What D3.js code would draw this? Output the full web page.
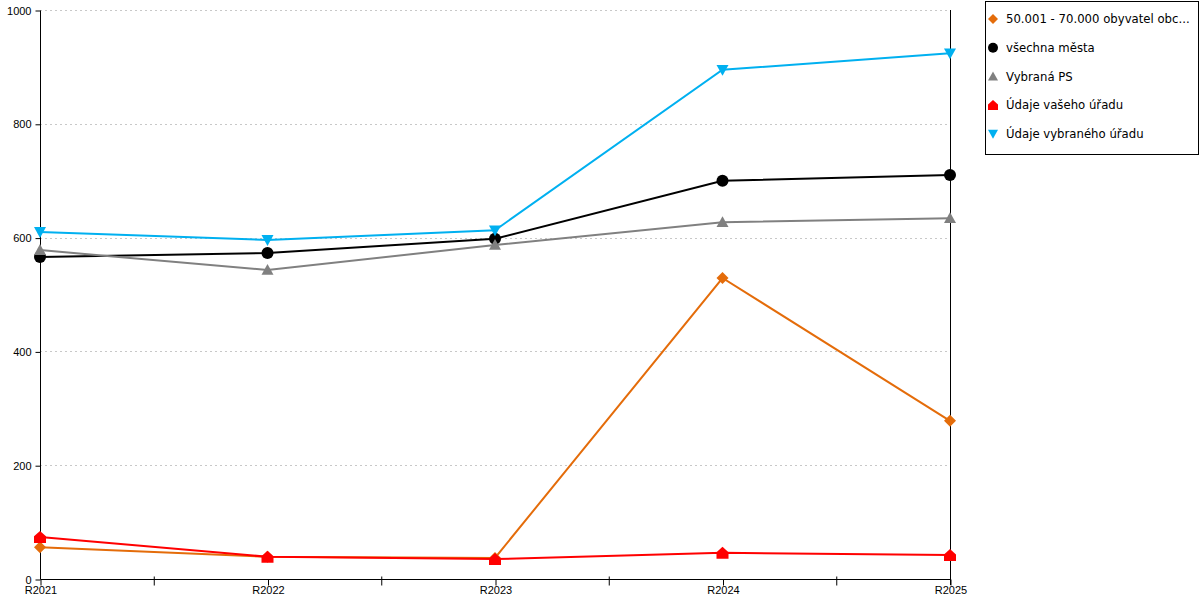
<!DOCTYPE html>
<html>
<head>
<meta charset="utf-8">
<script src="https://cdn.jsdelivr.net/npm/d3@7"></script>
<style>
  body { margin: 0; background: #fff; }
  svg { font-family: "DejaVu Sans", Verdana, sans-serif; font-size: 11px; }
  .grid line { stroke: #c8c8c8; stroke-dasharray: 2,3; }
</style>
</head>
<body>
<svg id="chart" width="1200" height="600"></svg>
<script>
// categories and series values
const years = ["R2021", "R2022", "R2023", "R2024", "R2025"];
const yTicks = [0, 200, 400, 600, 800, 1000];

const names = [
  "50.001 - 70.000 obyvatel obc...",
  "všechna města",
  "Vybraná PS",
  "Údaje vašeho úřadu",
  "Údaje vybraného úřadu"
];
const colors = ["#E46C0A", "#000000", "#808080", "#FF0000", "#00B0F0"];
const shapes = ["diamond", "circle", "triangleUp", "house", "triangleDown"];

const obyvatel = [56, 39, 37, 529, 278];
const vsechnaMesta = [566, 573, 598, 700, 710];
const vybranaPS = [578, 543, 587, 627, 634];
const vasUrad = [74, 39, 35, 46, 42];
const vybranyUrad = [610, 596, 613, 895, 924];

const seriesValues = [obyvatel, vsechnaMesta, vybranaPS, vasUrad, vybranyUrad];

const margin = { top: 10, left: 40, right: 250, bottom: 21 };
const width = 1200, height = 600;
const svg = d3.select('#chart');

const x = d3.scalePoint()
  .domain(years)
  .range([margin.left, width - margin.right]);

const y = d3.scaleLinear()
  .domain([0, 1000])
  .range([height - margin.bottom, margin.top]);

// dashed grid
svg.append('g')
  .attr('class', 'grid')
  .selectAll('line')
  .data(yTicks.slice(1))
  .enter()
  .append('line')
  .attr('x1', margin.left)
  .attr('x2', width - margin.right)
  .attr('y1', d => Math.round(y(d)) + 0.5)
  .attr('y2', d => Math.round(y(d)) + 0.5);

// y axis
const yAxis = svg.append('g')
  .attr('transform', `translate(${margin.left + 0.5},0.5)`)
  .call(d3.axisLeft(y).tickValues(yTicks).tickSize(5).tickPadding(4).tickFormat(d3.format('d')));
yAxis.select('.domain').attr('d', `M0,${y(1000)}V${y(0)}`);
yAxis.selectAll('text').attr('fill', '#000').style('font-size', '11px');

// x axis, with ticks both at the categories and half-way between
const step = x.step();
const halfTicks = years.slice(1).map(d => x(d) - step / 2);
const xAxisG = svg.append('g')
  .attr('transform', `translate(0.5,${y(0) + 0.5})`);
xAxisG.call(d3.axisBottom(x).tickSize(6).tickPadding(1));
xAxisG.select('.domain').attr('d', `M${margin.left},0H${width - margin.right}`);
xAxisG.selectAll('text').attr('fill', '#000').style('font-size', '11px');
xAxisG.selectAll('.half')
  .data(halfTicks)
  .enter()
  .append('line')
  .attr('class', 'half')
  .attr('x1', d => d).attr('x2', d => d)
  .attr('y1', -3).attr('y2', 6)
  .attr('stroke', '#000');

// right border line
svg.append('line')
  .attr('x1', width - margin.right + 0.5)
  .attr('x2', width - margin.right + 0.5)
  .attr('y1', y(1000))
  .attr('y2', y(0) + 6)
  .attr('stroke', '#000');

function markerPath(shape, s) {
  if (shape === 'diamond') return `M0,${-s}L${s},0L0,${s}L${-s},0Z`;
  if (shape === 'circle') return d3.symbol(d3.symbolCircle, Math.PI * s * s)();
  if (shape === 'triangleUp') return `M0,${-s}L${s},${s * 0.8}L${-s},${s * 0.8}Z`;
  if (shape === 'triangleDown') return `M0,${s}L${s},${-s * 0.8}L${-s},${-s * 0.8}Z`;
  if (shape === 'house') return `M0,${-s}L${s},${-s * 0.1}L${s},${s}L${-s},${s}L${-s},${-s * 0.1}Z`;
}

const line = d3.line()
  .x((d, i) => x(years[i]))
  .y(d => y(d));

seriesValues.forEach((vals, k) => {
  const g = svg.append('g');
  g.append('path')
    .attr('d', line(vals))
    .attr('fill', 'none')
    .attr('stroke', colors[k])
    .attr('stroke-width', 2);
  g.selectAll('path.mark')
    .data(vals)
    .enter()
    .append('path')
    .attr('class', 'mark')
    .attr('transform', (d, i) => `translate(${x(years[i])},${y(d)})`)
    .attr('d', markerPath(shapes[k], 6))
    .attr('fill', colors[k]);
});

// legend
const legend = svg.append('g');
legend.append('rect')
  .attr('x', 985.5).attr('y', 1.5)
  .attr('width', 213).attr('height', 153)
  .attr('fill', '#fff')
  .attr('stroke', '#000');

const items = legend.selectAll('.item')
  .data(names)
  .enter()
  .append('g')
  .attr('transform', (d, i) => `translate(993,${19 + i * 28.7})`);
items.append('path')
  .attr('d', (d, i) => markerPath(shapes[i], 5))
  .attr('fill', (d, i) => colors[i]);
items.append('text')
  .attr('x', 13)
  .attr('dy', '0.35em')
  .style('font-size', '11.7px')
  .text(d => d);
</script>
</body>
</html>
